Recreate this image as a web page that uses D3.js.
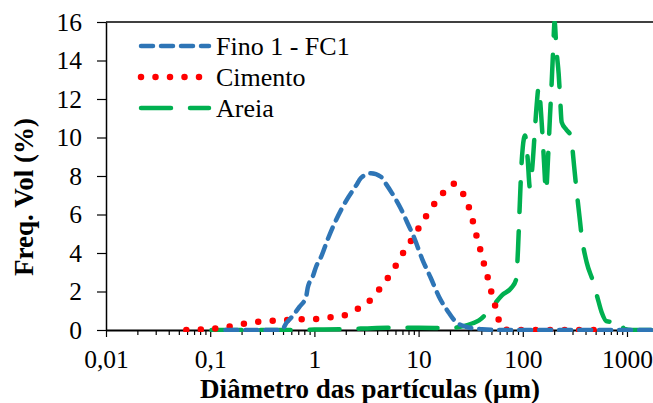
<!DOCTYPE html>
<html>
<head>
<meta charset="utf-8">
<script src="https://cdn.jsdelivr.net/npm/d3@7"></script>
<style>
  body { margin: 0; background: #fff; }
  svg { display: block; font-family: "Liberation Serif", "Times New Roman", serif; }
</style>
</head>
<body>
<div id="chart"></div>
<script>
// particle size (µm) and frequency (% vol)
const finoX = [0.14, 0.3, 0.45, 0.49, 0.536, 0.6, 0.718, 0.833, 0.863, 0.964, 1.04, 1.16, 1.34, 1.61, 2.01, 2.51, 2.80, 3.49, 4.35, 4.85, 5.57, 6.76, 7.76, 9.06, 10.8, 13.1, 15.7, 19.6, 21.9, 28.3, 40.6, 60, 200, 800, 1700];
const finoY = [0, 0, 0, 0.02, 0.35, 0.65, 1.2, 1.73, 2.2, 2.77, 3.3, 3.8, 4.7, 5.7, 6.7, 7.5, 7.9, 8.14, 7.96, 7.6, 7.1, 6.3, 5.6, 4.8, 3.7, 2.7, 1.73, 0.88, 0.52, 0.17, 0.04, 0, 0, 0, 0];

const cimentoX = [0.059, 0.082, 0.11, 0.151, 0.206, 0.287, 0.385, 0.536, 0.734, 1.0, 1.39, 1.87, 2.47, 3.24, 4.03, 4.85, 5.83, 6.81, 8.11, 9.53, 11.3, 13.4, 16.3, 20.0, 21.9, 25.3, 29.3, 32.3, 34.7, 37.9, 40.8, 44.6, 48.0, 52.0, 56.8, 61.2, 68.7, 78.5, 200, 590];
const cimentoY = [0, 0.03, 0.08, 0.17, 0.31, 0.43, 0.48, 0.52, 0.55, 0.57, 0.66, 0.74, 1.04, 1.42, 1.99, 2.56, 3.2, 3.84, 4.47, 5.1, 5.75, 6.37, 6.96, 7.53, 7.6, 7.3, 6.6, 5.92, 5.2, 4.47, 3.76, 3.03, 2.34, 1.61, 0.9, 0.17, 0.02, 0, 0, 0];

const areiaX = [0.103, 0.5, 1, 2, 3, 5, 10, 20, 27, 33, 38, 50, 63, 78, 86, 90, 92, 94, 97, 100, 105, 111, 117, 124, 130, 136, 142, 150, 155, 160, 167, 175, 182, 188, 195, 202, 210, 221, 228, 236, 262, 288, 311, 323, 350, 365, 411, 467, 520, 570, 640, 711, 794, 867, 946, 1100, 1700];
const areiaY = [0, 0, 0.02, 0.05, 0.08, 0.12, 0.12, 0.1, 0.2, 0.35, 0.5, 1.15, 1.8, 2.2, 2.6, 4.2, 5.5, 6.8, 8.5, 9.5, 10.1, 9.0, 7.4, 8.6, 10.2, 11.7, 12.6, 11.2, 10.0, 8.7, 7.2, 9.0, 11.0, 12.5, 14.4, 16.0, 14.6, 13.3, 12.1, 10.8, 10.4, 10.1, 8.5, 7.6, 5.9, 5.0, 3.5, 2.6, 1.7, 0.94, 0.45, 0.43, 0.57, 0.35, 0.05, 0, 0];

const seriesNames = ["Fino 1 - FC1", "Cimento", "Areia"];
const xTicks = [0.01, 0.1, 1, 10, 100, 1000];
const xTickLabels = ["0,01", "0,1", "1", "10", "100", "1000"];
const yTicks = [0, 2, 4, 6, 8, 10, 12, 14, 16];

const width = 653, height = 403;
const plotLeft = 106, plotTop = 22, plotBottom = 330, plotRight = 651;
const tickFont = 25.5, labelFont = 26, titleFont = 27;

const svg = d3.select("#chart").append("svg")
    .attr("width", width)
    .attr("height", height);

const x = d3.scaleLog().domain([0.01, 1700]).range([plotLeft, plotRight]);
const y = d3.scaleLinear().domain([0, 16]).range([plotBottom, plotTop]);

svg.append("clipPath").attr("id", "plot-clip")
  .append("rect")
    .attr("x", plotLeft).attr("y", plotTop - 1)
    .attr("width", width - plotLeft).attr("height", plotBottom - plotTop + 3);

// top border of the plot area
svg.append("line")
    .attr("x1", plotLeft).attr("x2", width)
    .attr("y1", plotTop).attr("y2", plotTop)
    .attr("stroke", "#000").attr("stroke-width", 1.5);

// minor log ticks
const minor = [];
for (let e = -2; e <= 3; e++) {
  for (let m = 2; m <= 9; m++) {
    const v = m * Math.pow(10, e);
    if (v <= 1700) minor.push(v);
  }
}
svg.append("g")
    .attr("transform", "translate(0," + plotBottom + ")")
    .call(d3.axisBottom(x).tickValues(minor).tickSize(5).tickFormat(""))
    .call(g => g.select(".domain").remove())
    .call(g => g.selectAll("line").attr("stroke-width", 1.2));

const xAxis = svg.append("g")
    .attr("transform", "translate(0," + plotBottom + ")")
    .call(d3.axisBottom(x).tickValues(xTicks).tickSize(7).tickSizeOuter(0)
      .tickFormat((d, i) => xTickLabels[i]));
xAxis.select(".domain").attr("stroke-width", 2);
xAxis.selectAll("line").attr("stroke-width", 1.2);
xAxis.selectAll("text")
    .attr("y", 38).attr("dy", 0)
    .attr("font-size", tickFont).attr("font-family", "Liberation Serif").attr("fill", "#000");

const yAxis = svg.append("g")
    .attr("transform", "translate(" + plotLeft + ",0)")
    .call(d3.axisLeft(y).tickValues(yTicks).tickSize(9).tickSizeOuter(0).tickPadding(15));
yAxis.select(".domain").attr("stroke-width", 1.5);
yAxis.selectAll("line").attr("stroke-width", 1.2);
yAxis.selectAll("text")
    .attr("font-size", tickFont).attr("font-family", "Liberation Serif").attr("fill", "#000");

svg.append("text")
    .attr("transform", "translate(33,197) rotate(-90)")
    .attr("text-anchor", "middle")
    .attr("font-size", titleFont).attr("font-weight", "bold")
    .text("Freq. Vol (%)");

svg.append("text")
    .attr("x", 370).attr("y", 398)
    .attr("text-anchor", "middle")
    .attr("font-size", titleFont).attr("font-weight", "bold")
    .text("Diâmetro das partículas (µm)");

const styles = [
  { color: "#2E75B6", width: 4.5, dash: "12 8" },
  { color: "#FF0000", width: 6.5, dash: "0 14.5" },
  { color: "#00B050", width: 4.5, dash: "30 19" }
];

const series = [
  d3.zip(finoX, finoY),
  d3.zip(cimentoX, cimentoY),
  d3.zip(areiaX, areiaY)
];

const line = d3.line()
    .x(d => x(d[0]))
    .y(d => y(d[1]))
    .curve(d3.curveMonotoneX);

const plot = svg.append("g").attr("clip-path", "url(#plot-clip)");
// draw green first, then red, then blue on top
[2, 1, 0].forEach(i => {
  plot.append("path")
      .datum(series[i])
      .attr("fill", "none")
      .attr("stroke", styles[i].color)
      .attr("stroke-width", styles[i].width)
      .attr("stroke-dasharray", styles[i].dash)
      .attr("stroke-linecap", "round")
      .attr("stroke-linejoin", "round")
      .attr("d", line);
});

// legend
const legend = svg.append("g");
seriesNames.forEach((name, i) => {
  const ly = 46 + i * 31;
  legend.append("line")
      .attr("x1", 141).attr("x2", 209)
      .attr("y1", ly).attr("y2", ly)
      .attr("stroke", styles[i].color)
      .attr("stroke-width", styles[i].width)
      .attr("stroke-dasharray", styles[i].dash)
      .attr("stroke-linecap", "round");
  legend.append("text")
      .attr("x", 216).attr("y", ly + 9)
      .attr("font-size", labelFont)
      .text(name);
});
</script>
</body>
</html>
